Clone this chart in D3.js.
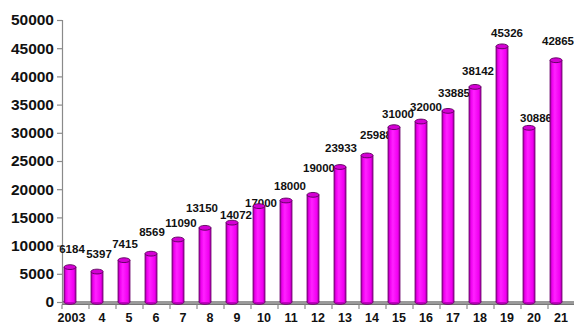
<!DOCTYPE html>
<html>
<head>
<meta charset="utf-8">
<script src="https://cdn.jsdelivr.net/npm/d3@7"></script>
<style>
  html, body { margin: 0; padding: 0; background: #fff; }
  svg { display: block; font-family: "Liberation Sans", Arial, sans-serif; }
</style>
</head>
<body>
<svg id="chart" width="574" height="324"></svg>
<script>
// Yearly totals, 2003–2021
const years = ["2003", "4", "5", "6", "7", "8", "9", "10", "11", "12",
               "13", "14", "15", "16", "17", "18", "19", "20", "21"];
const values = [6184, 5397, 7415, 8569, 11090, 13150, 14072, 17000, 18000, 19000,
                23933, 25988, 31000, 32000, 33885, 38142, 45326, 30886, 42865];
const yTicks = [0, 5000, 10000, 15000, 20000, 25000, 30000, 35000, 40000, 45000, 50000];

// Small hand placement tweaks for value labels [dx, dy] so they sit like a spreadsheet chart
const labelNudge = [
  [1, -2], [1, -2], [0, 0], [0, -6], [2, 0], [-4, -4], [3, 8], [1, 13], [3, 2], [5, -11],
  [0, -3], [8, -4], [3, 3], [4, 1], [5, -2], [2, 0], [4, 3], [6, 6], [1, -3]
];

const svg = d3.select("#chart");
const plotLeft = 62, plotRight = 575, plotTop = 20, floorY = 302;

const x = d3.scaleBand().domain(years).range([plotLeft, plotRight]).padding(0);
const y = d3.scaleLinear().domain([0, 50000]).range([floorY, plotTop]);

const barW = 12, rx = barW / 2, ry = 2.4, depthShift = -5.5;
const cx = d => x(d) + x.bandwidth() / 2 + depthShift;

// Gradient for the cylinder body
const defs = svg.append("defs");
const grad = defs.append("linearGradient").attr("id", "cyl").attr("x1", "0").attr("x2", "1");
grad.append("stop").attr("offset", "0%").attr("stop-color", "#9a009a");
grad.append("stop").attr("offset", "18%").attr("stop-color", "#f000f0");
grad.append("stop").attr("offset", "40%").attr("stop-color", "#ff22ff");
grad.append("stop").attr("offset", "80%").attr("stop-color", "#f200f2");
grad.append("stop").attr("offset", "100%").attr("stop-color", "#a000a0");

// Floor of the 3D plot
svg.append("rect")
  .attr("x", plotLeft).attr("y", floorY - 1)
  .attr("width", plotRight - plotLeft).attr("height", 3.5)
  .attr("fill", "#9a9a9a");
svg.append("line")
  .attr("x1", plotLeft).attr("x2", plotRight).attr("y1", floorY + 2.5).attr("y2", floorY + 2.5)
  .attr("stroke", "#777").attr("stroke-width", 1);

// Y axis
const yAxis = d3.axisLeft(y).tickValues(yTicks).tickSize(5).tickPadding(3).tickFormat(d3.format("d"));
const gy = svg.append("g").attr("transform", `translate(${plotLeft},0)`).call(yAxis);
gy.select(".domain").attr("stroke", "#8a8a8a").attr("stroke-width", 1.2);
gy.selectAll(".tick line").attr("stroke", "#8a8a8a").attr("stroke-width", 1.2);
gy.selectAll(".tick text")
  .attr("font-size", 15.5).attr("font-weight", "bold").attr("fill", "#111")
  .attr("font-family", "'Liberation Sans', Arial, sans-serif");

// X axis (tick marks sit on category boundaries)
const boundaries = years.map(d => x(d)).concat([plotRight]);
svg.append("g").selectAll("line").data(boundaries).join("line")
  .attr("x1", d => d).attr("x2", d => d)
  .attr("y1", floorY + 2.5).attr("y2", floorY + 7)
  .attr("stroke", "#8a8a8a").attr("stroke-width", 1.2);
svg.append("g").selectAll("text").data(years).join("text")
  .attr("x", d => x(d) + x.bandwidth() / 2 - (d === "2003" ? 4 : 0.5))
  .attr("y", 322)
  .attr("text-anchor", "middle")
  .attr("font-size", 12.5).attr("font-weight", "bold").attr("fill", "#111")
  .text(d => d);

// Value labels (drawn under the bars)
svg.append("g").selectAll("text").data(values).join("text")
  .attr("x", (v, i) => cx(years[i]) + 1 + labelNudge[i][0])
  .attr("y", (v, i) => y(v) - 12 + labelNudge[i][1])
  .attr("text-anchor", "middle")
  .attr("font-size", 11.5).attr("font-weight", "bold").attr("fill", "#111")
  .text(v => v);

// Cylinders
const bars = svg.append("g").selectAll("g").data(values).join("g");
bars.append("ellipse")
  .attr("cx", (v, i) => cx(years[i])).attr("cy", floorY)
  .attr("rx", rx).attr("ry", ry)
  .attr("fill", "#c000c0").attr("stroke", "#6a006a").attr("stroke-width", 0.8);
bars.append("rect")
  .attr("x", (v, i) => cx(years[i]) - rx)
  .attr("y", v => y(v))
  .attr("width", barW)
  .attr("height", v => floorY - y(v))
  .attr("fill", "url(#cyl)");
bars.append("line")
  .attr("x1", (v, i) => cx(years[i]) - rx).attr("x2", (v, i) => cx(years[i]) - rx)
  .attr("y1", v => y(v)).attr("y2", floorY)
  .attr("stroke", "#6a006a").attr("stroke-width", 0.8);
bars.append("line")
  .attr("x1", (v, i) => cx(years[i]) + rx).attr("x2", (v, i) => cx(years[i]) + rx)
  .attr("y1", v => y(v)).attr("y2", floorY)
  .attr("stroke", "#6a006a").attr("stroke-width", 0.8);
bars.append("ellipse")
  .attr("cx", (v, i) => cx(years[i])).attr("cy", v => y(v))
  .attr("rx", rx).attr("ry", ry)
  .attr("fill", "#d400d4").attr("stroke", "#5a005a").attr("stroke-width", 0.9);
</script>
</body>
</html>
